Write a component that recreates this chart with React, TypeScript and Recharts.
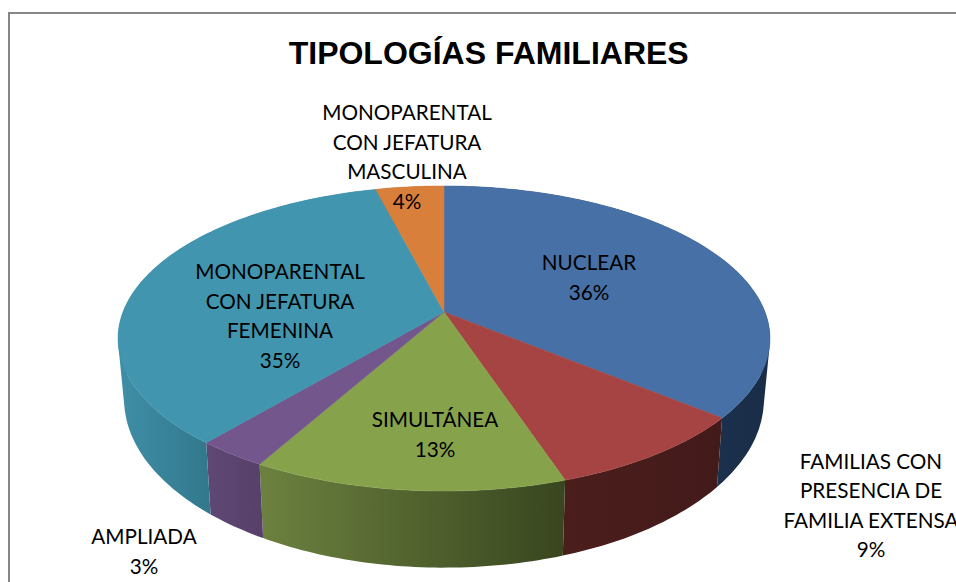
import { Pie, PieChart } from "recharts";

const categories = [
  "NUCLEAR",
  "FAMILIAS CON PRESENCIA DE FAMILIA EXTENSA",
  "SIMULTÁNEA",
  "AMPLIADA",
  "MONOPARENTAL CON JEFATURA FEMENINA",
  "MONOPARENTAL CON JEFATURA MASCULINA",
];
const values = [36, 8.9, 13.2, 3, 34.9, 4];

const labelLines = [
  ["NUCLEAR"],
  ["FAMILIAS CON", "PRESENCIA DE", "FAMILIA EXTENSA"],
  ["SIMULTÁNEA"],
  ["AMPLIADA"],
  ["MONOPARENTAL", "CON JEFATURA", "FEMENINA"],
  ["MONOPARENTAL", "CON JEFATURA", "MASCULINA"],
];
// centre x and first baseline of each data label
const labelPos = [
  [589, 270],
  [871, 468.5],
  [435, 427],
  [144, 544],
  [280, 279],
  [407, 120],
];

const topColors = ["#4670a6", "#a54442", "#86a34c", "#72568c", "#4195ae", "#d97f3c"];
const wallFrom = ["#1b304d", "#4b1e1c", "#6c813f", "#604876", "#3f8fa7", "#8a4f22"];
const wallTo = ["#1a2d47", "#431a1a", "#39461f", "#574069", "#33798e", "#8a4f22"];
const wallSpan = [
  [718, 770],
  [563, 718],
  [260, 563],
  [205, 260],
  [118, 205],
  [376, 444],
];

const tableData = categories.map((name, i) => ({ name, value: values[i] }));

const CX = 444;
const CY = 312;
const PERSP = -0.1738;
const TOP_RING = { d: 321, y0: CY, p: 93.7 };
const BOTTOM_RING = { d: 315, y0: 370, p: 99 };

type Ring = typeof TOP_RING;

// tilted disc: perspective projection of a point on the rim, angle in recharts degrees
function rimPoint(angle: number, ring: Ring) {
  const t = ((90 - angle) * Math.PI) / 180;
  const u = Math.sin(t);
  const v = -Math.cos(t);
  const w = 1 + PERSP * v;
  return [CX + (ring.d * u) / w, (ring.y0 + ring.p * v) / w];
}

function rimPath(start: number, end: number, ring: Ring) {
  const steps = Math.max(2, Math.ceil(Math.abs(end - start)));
  const pts: number[][] = [];
  for (let i = 0; i <= steps; i++) {
    pts.push(rimPoint(start + ((end - start) * i) / steps, ring));
  }
  return pts;
}

const toD = (pts: number[][]) =>
  "M" + pts.map((p) => `${p[0].toFixed(1)},${p[1].toFixed(1)}`).join("L") + "Z";

// all quads wound the same way, or overlapping ones cancel out under nonzero fill
function wound(pts: number[][]) {
  let area = 0;
  pts.forEach((p, i) => {
    const q = pts[(i + 1) % pts.length];
    area += p[0] * q[1] - q[0] * p[1];
  });
  return area < 0 ? [...pts].reverse() : pts;
}

function TopSlice(props: any) {
  const { startAngle, endAngle, index } = props;
  const pts = [[CX, CY], ...rimPath(startAngle, endAngle, TOP_RING)];
  return <path d={toD(pts)} fill={topColors[index]} stroke={topColors[index]} strokeWidth={0.5} />;
}

function WallSlice(props: any) {
  const { startAngle, endAngle, index } = props;
  const top = rimPath(startAngle, endAngle, TOP_RING);
  const bottom = rimPath(startAngle, endAngle, BOTTOM_RING);
  // one quad per step, a single ribbon would leave a notch where the two rims cross
  const quads = top
    .slice(1)
    .map((p, i) => toD(wound([top[i], p, bottom[i + 1], bottom[i]])))
    .join("");
  return <path d={quads} fill={`url(#wall${index})`} />;
}

function SliceLabel(props: any) {
  const { index } = props;
  const [x, y] = labelPos[index];
  const lines = [...labelLines[index], `${Math.round(values[index])}%`];
  return (
    <text x={x} y={y} textAnchor="middle" fontFamily="Lato" fontSize={20.7} fill="#000000">
      {lines.map((line, i) => (
        <tspan key={i} x={x} y={y + i * 29.5}>
          {line}
        </tspan>
      ))}
    </text>
  );
}

export default function App() {
  return (
    <div style={{ position: "absolute", left: 0, top: 0, width: 956, height: 582, overflow: "hidden", background: "#fff" }}>
      <PieChart width={956} height={582} margin={{ top: 0, right: 0, bottom: 0, left: 0 }}>
        <defs>
          {wallSpan.map((span, i) => (
            <linearGradient key={i} id={`wall${i}`} gradientUnits="userSpaceOnUse" x1={span[0]} x2={span[1]} y1={0} y2={0}>
              <stop offset="0%" stopColor={wallFrom[i]} />
              <stop offset="100%" stopColor={wallTo[i]} />
            </linearGradient>
          ))}
        </defs>
        <rect x={9} y={13} width={1200} height={1200} fill="#ffffff" stroke="#868686" strokeWidth={2} />
        <text x={488.7} y={64} textAnchor="middle" fontFamily="Liberation Sans" fontWeight="bold" fontSize={32} fill="#000000">
          TIPOLOGÍAS FAMILIARES
        </text>
        <Pie
          data={tableData}
          dataKey="value"
          nameKey="name"
          cx={CX}
          cy={CY}
          outerRadius={200}
          startAngle={90}
          endAngle={-270}
          stroke="none"
          shape={WallSlice}
          isAnimationActive={false}
        />
        <Pie
          data={tableData}
          dataKey="value"
          nameKey="name"
          cx={CX}
          cy={CY}
          outerRadius={200}
          startAngle={90}
          endAngle={-270}
          stroke="none"
          shape={TopSlice}
          label={SliceLabel}
          labelLine={false}
          isAnimationActive={false}
        />
      </PieChart>
    </div>
  );
}
